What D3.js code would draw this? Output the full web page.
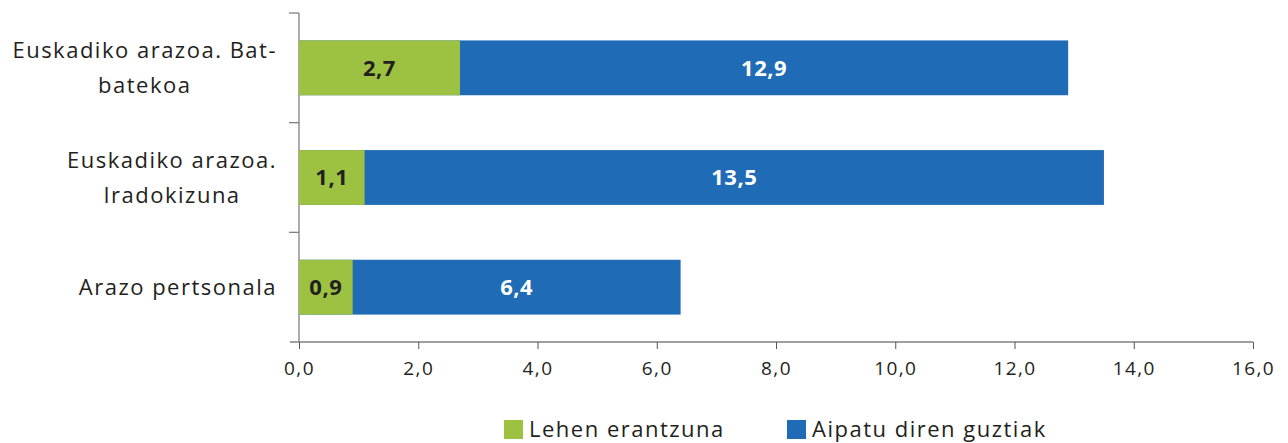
<!DOCTYPE html>
<meta charset="utf-8">
<style>
  body { margin: 0; background: #fff; }
  text { font-family: "Open Sans", sans-serif; fill: #231f20; }
</style>
<script src="https://d3js.org/d3.v7.min.js"></script>
<div id="chart"></div>
<script>
  // data
  var categories = [["Euskadiko arazoa. Bat-", "batekoa"], ["Euskadiko arazoa.", "Iradokizuna"], ["Arazo pertsonala"]];
  var firstAnswer = [2.7, 1.1, 0.9];
  var allMentioned = [12.9, 13.5, 6.4];
  var seriesNames = ["Lehen erantzuna", "Aipatu diren guztiak"];
  var xTicks = [0, 2, 4, 6, 8, 10, 12, 14, 16];

  var green = "#9dc242", blue = "#1f6bb5";

  var margin = { top: 13, left: 299 },
    width = 1288, height = 443,
    plotH = 329;

  var svg = d3.select("#chart").append("svg")
    .attr("width", width).attr("height", height);

  var g = svg.append("g").attr("transform", "translate(" + margin.left + "," + margin.top + ")");

  var x = d3.scaleLinear().domain([0, 16]).range([0, 954]);
  var y = d3.scaleBand().domain(d3.range(categories.length)).range([0, plotH]).paddingInner(0.5).paddingOuter(0.25);

  // y axis line and ticks between categories
  g.append("line").attr("x1", 0).attr("x2", 0).attr("y1", 0).attr("y2", plotH)
    .attr("stroke", "#808080").attr("stroke-width", 1.3);
  var step = plotH / categories.length;
  g.selectAll(".ytick").data(d3.range(categories.length)).enter().append("line")
    .attr("x1", -10).attr("x2", 0)
    .attr("y1", function (d) { return d * step; }).attr("y2", function (d) { return d * step; })
    .attr("stroke", "#808080").attr("stroke-width", 1.3);

  var fmt = function (v) { return d3.format(".1f")(v).replace(".", ","); };

  // x axis
  var xAxis = g.append("g").attr("transform", "translate(0," + plotH + ")")
    .call(d3.axisBottom(x).tickValues(xTicks).tickSize(7).tickSizeOuter(0).tickPadding(13).tickFormat(fmt));
  xAxis.select(".domain").attr("stroke", "#808080").attr("stroke-width", 1.5).attr("d", "M-9,0H" + x(16));
  xAxis.selectAll(".tick line").attr("stroke", "#555");
  xAxis.selectAll(".tick text").style("font-size", "19px").style("fill", "#231f20")
    .style("font-family", "'Open Sans', sans-serif").style("letter-spacing", "1.4px");

  // bars: the full count behind, first answer on top
  g.selectAll(".all").data(allMentioned).enter().append("rect")
    .attr("x", x(0)).attr("y", function (d, i) { return y(i); })
    .attr("width", function (d) { return x(d) - x(0); })
    .attr("height", y.bandwidth()).attr("fill", blue);
  g.selectAll(".first").data(firstAnswer).enter().append("rect")
    .attr("x", x(0)).attr("y", function (d, i) { return y(i); })
    .attr("width", function (d) { return x(d) - x(0); })
    .attr("height", y.bandwidth()).attr("fill", green);

  g.selectAll(".lab1").data(firstAnswer).enter().append("text")
    .attr("x", function (d) { return x(d) / 2; })
    .attr("y", function (d, i) { return y(i) + y.bandwidth() / 2; })
    .attr("dy", "0.36em").attr("text-anchor", "middle")
    .style("font-size", "22px").style("font-weight", "bold").style("letter-spacing", "0.5px")
    .text(fmt);
  g.selectAll(".lab2").data(allMentioned).enter().append("text")
    .attr("x", function (d, i) { return (x(firstAnswer[i]) + x(d)) / 2; })
    .attr("y", function (d, i) { return y(i) + y.bandwidth() / 2; })
    .attr("dy", "0.36em").attr("text-anchor", "middle")
    .style("font-size", "22px").style("font-weight", "bold").style("fill", "#fff").style("letter-spacing", "0.5px")
    .text(fmt);

  // category labels: block right aligned at 277, lines centred within it
  categories.forEach(function (lines, i) {
    var t = g.append("text").attr("text-anchor", "middle")
      .style("font-size", "22px").style("letter-spacing", "1.5px");
    var cy = y(i) + y.bandwidth() / 2;
    var lh = 35;
    lines.forEach(function (l, k) {
      t.append("tspan").attr("x", 0)
        .attr("y", cy + (k - (lines.length - 1) / 2) * lh)
        .attr("dy", "0.36em").text(l);
    });
    var w = d3.max(t.selectAll("tspan").nodes(), function (n) { return n.getComputedTextLength(); });
    t.selectAll("tspan").attr("x", -22 - w / 2);
  });

  // legend
  var legend = svg.append("g").attr("transform", "translate(0,429)");
  var lx = [504, 787];
  seriesNames.forEach(function (s, i) {
    legend.append("rect").attr("x", lx[i]).attr("y", -9).attr("width", 19).attr("height", 19)
      .attr("fill", i === 0 ? green : blue);
    legend.append("text").attr("x", lx[i] + 25).attr("y", 0).attr("dy", "0.36em")
      .style("font-size", "22px").style("letter-spacing", "1.5px").text(s);
  });
</script>
